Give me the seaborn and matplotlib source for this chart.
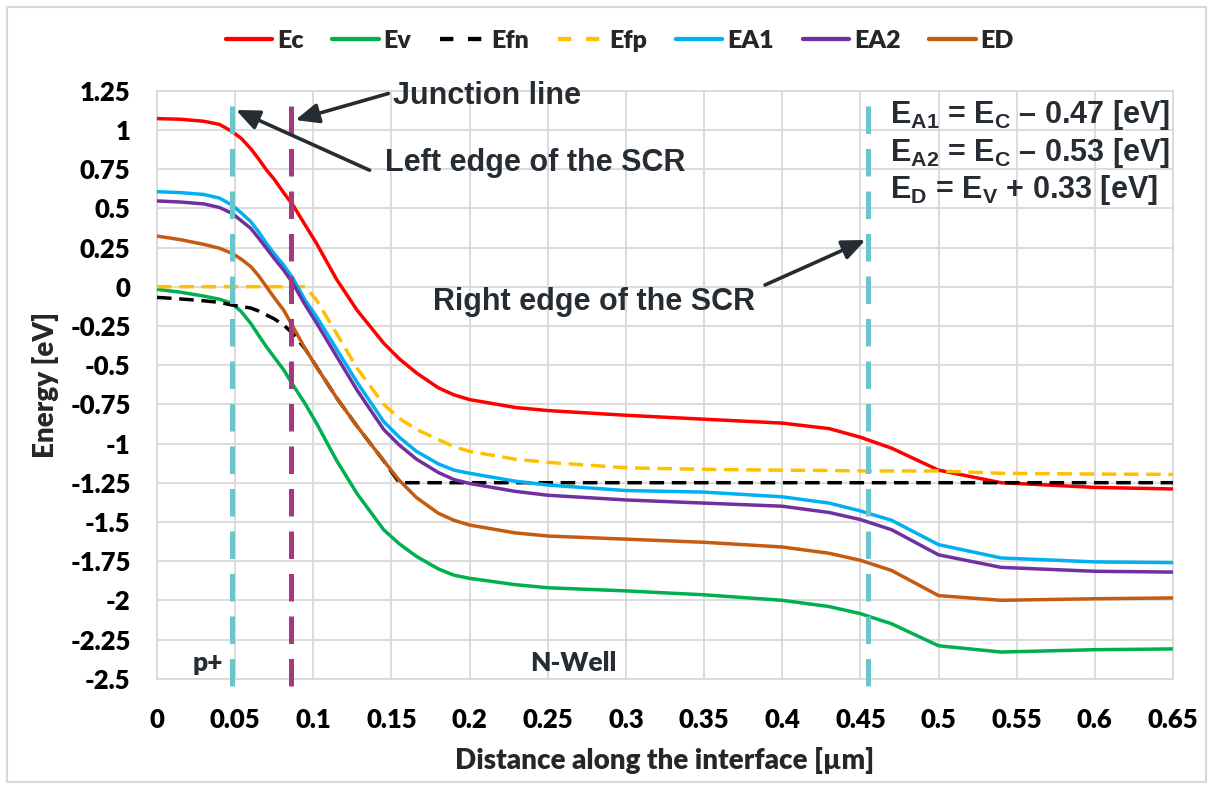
import numpy as np
import pandas as pd
import matplotlib
matplotlib.use("Agg")
import matplotlib.pyplot as plt
from matplotlib.patches import Rectangle
import seaborn as sns

# ---------------- data ----------------
x_um = [0, 0.015, 0.03, 0.04, 0.048, 0.054, 0.06, 0.065, 0.07, 0.075, 0.081, 0.087,
        0.095, 0.102, 0.115, 0.128, 0.145, 0.155, 0.166, 0.18, 0.19, 0.2, 0.229, 0.25,
        0.3, 0.35, 0.4, 0.43, 0.45, 0.47, 0.5, 0.54, 0.6, 0.65]

Ec = [1.072, 1.068, 1.055, 1.035, 0.99, 0.945, 0.88, 0.815, 0.745, 0.685, 0.60, 0.52,
      0.39, 0.277, 0.045, -0.15, -0.36, -0.46, -0.55, -0.645, -0.69, -0.72, -0.77, -0.79,
      -0.82, -0.845, -0.87, -0.905, -0.96, -1.03, -1.17, -1.25, -1.28, -1.29]
Ev = [-0.017, -0.035, -0.06, -0.08, -0.106, -0.16, -0.234, -0.31, -0.383, -0.45, -0.53, -0.627,
      -0.75, -0.87, -1.11, -1.32, -1.55, -1.64, -1.72, -1.80, -1.84, -1.86, -1.90, -1.92,
      -1.94, -1.965, -2.0, -2.04, -2.085, -2.15, -2.29, -2.33, -2.315, -2.31]
Efn = [-0.068, -0.078, -0.09, -0.10, -0.117, -0.127, -0.136, -0.155, -0.18, -0.205, -0.244, -0.30,
       -0.40, -0.51, -0.71, -0.89, -1.11, -1.25, -1.25, -1.25, -1.25, -1.25, -1.25, -1.25,
       -1.25, -1.25, -1.25, -1.25, -1.25, -1.25, -1.25, -1.25, -1.25, -1.25]
Efp = [0.0, 0.0, 0.0, 0.0, 0.0, 0.0, 0.0, 0.0, 0.0, 0.0, 0.0, 0.0,
       0.0, -0.085, -0.30, -0.52, -0.75, -0.84, -0.91, -0.975, -1.02, -1.05, -1.10, -1.12,
       -1.155, -1.165, -1.17, -1.172, -1.175, -1.175, -1.175, -1.19, -1.195, -1.197]
EA1 = [0.606, 0.60, 0.588, 0.565, 0.52, 0.47, 0.415, 0.35, 0.277, 0.21, 0.138, 0.053,
       -0.09, -0.19, -0.40, -0.61, -0.86, -0.96, -1.05, -1.13, -1.17, -1.19, -1.24, -1.265,
       -1.30, -1.31, -1.34, -1.38, -1.43, -1.49, -1.645, -1.73, -1.755, -1.76]
EA2 = [0.547, 0.54, 0.528, 0.505, 0.468, 0.42, 0.372, 0.31, 0.245, 0.18, 0.106, 0.02,
       -0.12, -0.23, -0.446, -0.66, -0.91, -1.01, -1.10, -1.185, -1.23, -1.255, -1.305, -1.33,
       -1.36, -1.38, -1.40, -1.44, -1.485, -1.55, -1.71, -1.79, -1.815, -1.82]
ED = [0.323, 0.30, 0.27, 0.245, 0.213, 0.175, 0.128, 0.07, 0.0, -0.07, -0.149, -0.255,
      -0.40, -0.51, -0.71, -0.89, -1.11, -1.235, -1.345, -1.445, -1.49, -1.52, -1.57, -1.59,
      -1.61, -1.63, -1.66, -1.70, -1.745, -1.81, -1.97, -2.0, -1.99, -1.985]

series_names = ["Ec", "Ev", "Efn", "Efp", "EA1", "EA2", "ED"]
series_values = [Ec, Ev, Efn, Efp, EA1, EA2, ED]

scr_left = 0.048
junction = 0.086
scr_right = 0.455

x_ticks = [0, 0.05, 0.1, 0.15, 0.2, 0.25, 0.3, 0.35, 0.4, 0.45, 0.5, 0.55, 0.6, 0.65]
x_tick_labels = ["0", "0.05", "0.1", "0.15", "0.2", "0.25", "0.3", "0.35", "0.4",
                 "0.45", "0.5", "0.55", "0.6", "0.65"]
y_ticks = [1.25, 1, 0.75, 0.5, 0.25, 0, -0.25, -0.5, -0.75, -1, -1.25, -1.5, -1.75,
           -2, -2.25, -2.5]
y_tick_labels = ["1.25", "1", "0.75", "0.5", "0.25", "0", "-0.25", "-0.5", "-0.75",
                 "-1", "-1.25", "-1.5", "-1.75", "-2", "-2.25", "-2.5"]

# ---------------- style ----------------
sns.set_theme(style="white")
plt.rcParams['font.family'] = ['Lato', 'DejaVu Sans']
plt.rcParams['mathtext.fontset'] = 'custom'
plt.rcParams['mathtext.rm'] = 'Liberation Sans:bold'
plt.rcParams['mathtext.bf'] = 'Liberation Sans:bold'
plt.rcParams['mathtext.it'] = 'Liberation Sans:bold'

colors = {"Ec": "#FF0000", "Ev": "#00B050", "Efn": "#000000", "Efp": "#FFC000",
          "EA1": "#00B0F0", "EA2": "#7030A0", "ED": "#C55A11"}
styles = {"Ec": "-", "Ev": "-", "Efn": (0, (4.2, 2.2)), "Efp": (0, (4.2, 2.2)),
          "EA1": "-", "EA2": "-", "ED": "-"}
W = 'heavy'

fig = plt.figure(figsize=(12.13, 7.89), dpi=100)
ax = fig.add_axes([157/1213, 1 - 678.7/789, (1173-157)/1213, (678.7-90.7)/789])

df = pd.DataFrame({"x": x_um})
for name, vals in zip(series_names, series_values):
    df[name] = vals

for name in series_names:
    sns.lineplot(data=df, x="x", y=name, ax=ax, color=colors[name], lw=2.5,
                 linestyle=styles[name], label=name, zorder=3, sort=False)

grid_c = "#D9D9D9"
ax.set_xlim(0, 0.65)
ax.set_ylim(-2.5, 1.25)
ax.set_xticks(x_ticks)
ax.set_xticklabels(x_tick_labels)
ax.set_yticks(y_ticks)
ax.set_yticklabels(y_tick_labels)
ax.grid(True, color=grid_c, lw=1.3, zorder=0)
for s in ax.spines.values():
    s.set_color(grid_c)
    s.set_linewidth(1.3)
ax.tick_params(axis='both', length=0, labelsize=18.5, colors="black")
ax.tick_params(axis='x', pad=21)
ax.tick_params(axis='y', pad=19)
for lab in ax.get_xticklabels() + ax.get_yticklabels():
    lab.set_fontweight(W)

ax.set_xlabel("Distance along the interface [µm]", fontsize=20, fontweight=W)
ax.set_ylabel("Energy [eV]", fontsize=20, fontweight=W)
ax.xaxis.set_label_coords(0.5, (678.7 - 760) / 588)
ax.xaxis.label.set_va('center')
ax.yaxis.set_label_coords((46 - 157) / 1016, 0.5)
ax.yaxis.label.set_va('center')

# vertical marker lines
ymin_f, ymax_f = -0.013, 0.981
ax.axvline(scr_left, ymin=ymin_f, ymax=ymax_f, color="#6CC5CB", lw=3.6,
           linestyle=(0, (5.5, 3.0)), clip_on=False, zorder=4)
ax.axvline(junction, ymin=ymin_f, ymax=ymax_f, color="#A6387F", lw=3.6,
           linestyle=(0, (5.5, 3.0)), clip_on=False, zorder=4)
ax.axvline(scr_right, ymin=ymin_f, ymax=ymax_f, color="#6CC5CB", lw=3.6,
           linestyle=(0, (5.5, 3.0)), clip_on=False, zorder=4)

txt_c = "#262C33"
afont = dict(family=['Liberation Sans', 'DejaVu Sans'], fontweight='bold', color=txt_c)
arrow = dict(arrowstyle='-|>,head_length=0.7,head_width=0.3', color=txt_c, lw=2.6,
             mutation_scale=20, shrinkA=0, shrinkB=0)

ax.annotate("", xy=(0.0885, 1.063), xytext=(0.148, 1.232), arrowprops=arrow, zorder=6)
ax.text(0.151, 1.218, "Junction line", fontsize=22, va='center', ha='left', **afont)
ax.annotate("", xy=(0.0505, 1.127), xytext=(0.136, 0.743), arrowprops=arrow, zorder=6)
ax.text(0.146, 0.789, "Left edge of the SCR", fontsize=22, va='center', ha='left', **afont)
ax.annotate("", xy=(0.4533, 0.298), xytext=(0.389, 0.011), arrowprops=arrow, zorder=6)
ax.text(0.1765, -0.098, "Right edge of the SCR", fontsize=22, va='center', ha='left', **afont)

ax.text(0.4687, 1.095, r"E$_{\mathbf{A1}}$ = E$_{\mathbf{C}}$ – 0.47 [eV]", fontsize=22,
        va='center', ha='left', **afont)
ax.text(0.4687, 0.853, r"E$_{\mathbf{A2}}$ = E$_{\mathbf{C}}$ – 0.53 [eV]", fontsize=22,
        va='center', ha='left', **afont)
ax.text(0.4687, 0.617, r"E$_{\mathbf{D}}$ = E$_{\mathbf{V}}$ + 0.33 [eV]", fontsize=22,
        va='center', ha='left', **afont)

ax.text(0.023, -2.4, "p+", fontsize=19, fontweight=W, color=txt_c, va='center', ha='left')
ax.text(0.2385, -2.4, "N-Well", fontsize=19, fontweight=W, color=txt_c, va='center', ha='left')

ax.get_legend().remove()
handles, labels = ax.get_legend_handles_labels()
leg = fig.legend(handles, labels, loc='center', bbox_to_anchor=(0.511, 1 - 41/789), ncol=7,
                 frameon=False, fontsize=18, handlelength=1.85, handletextpad=0.2,
                 columnspacing=1.15)
for t in leg.get_texts():
    t.set_fontweight(W)
for name, h in zip(labels, leg.get_lines()):
    h.set_linewidth(3.1)
    if name in ("Efn", "Efp"):
        h.set_linestyle((0, (3.1, 3.4)))

fig.patches.append(Rectangle((7/1213, 7/789), 1199/1213, 775/789, transform=fig.transFigure,
                             fill=False, edgecolor=grid_c, lw=1.5))

fig.savefig("out.png", dpi=100)
